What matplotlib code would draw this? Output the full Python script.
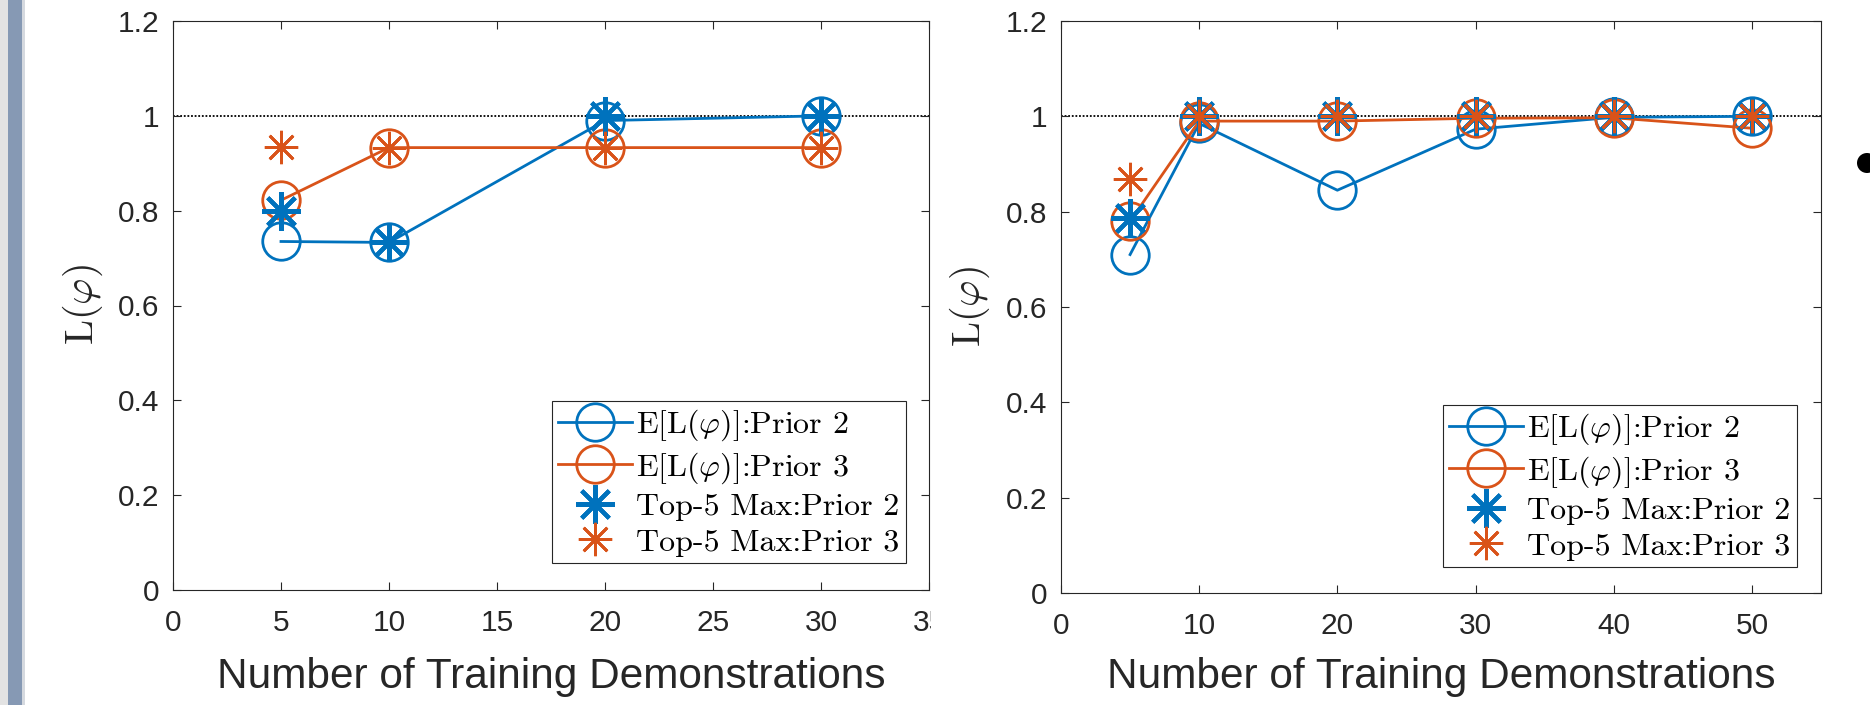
import matplotlib
matplotlib.use('Agg')
import matplotlib.pyplot as plt
from matplotlib.ticker import FuncFormatter, MultipleLocator
from matplotlib.patches import Rectangle, Ellipse
from matplotlib.lines import Line2D

plt.rcParams['mathtext.fontset'] = 'cm'
plt.rcParams['font.family'] = ['Liberation Sans', 'DejaVu Sans']

# ---------------- data ----------------
x_left = [5, 10, 20, 30]
left_e_prior2 = [0.735, 0.733, 0.990, 1.000]
left_e_prior3 = [0.822, 0.933, 0.933, 0.933]
left_top5_prior2 = [0.800, 0.733, 1.000, 1.000]
left_top5_prior3 = [0.935, 0.933, 0.933, 0.933]

x_right = [5, 10, 20, 30, 40, 50]
right_e_prior2 = [0.710, 0.985, 0.845, 0.973, 0.998, 1.000]
right_e_prior3 = [0.780, 0.990, 0.990, 0.996, 0.997, 0.975]
right_top5_prior2 = [0.786, 1.000, 1.000, 1.000, 1.000, 1.000]
right_top5_prior3 = [0.868, 1.000, 1.000, 1.000, 1.000, 1.000]

labels = [r'E[L($\varphi$)]:Prior 2', r'E[L($\varphi$)]:Prior 3',
          'Top-5 Max:Prior 2', 'Top-5 Max:Prior 3']
xlabel = 'Number of Training Demonstrations'
ylabel = r'$\mathrm{L}(\varphi)$'
yticks = [0, 0.2, 0.4, 0.6, 0.8, 1.0, 1.2]

BLUE = '#0072BD'
ORANGE = '#D95319'
AX_COL = '#262626'
ASTER = (8, 2, 0)

CIRC = dict(marker='o', mfc='none', ms=27, mew=2.0, lw=2.0)
STAR2 = dict(ls='none', marker=ASTER, ms=28, mew=3.0)
STAR3 = dict(ls='none', marker=ASTER, ms=24, mew=2.0)

W, H = 1870, 705
fig = plt.figure(figsize=(W / 100, H / 100), dpi=100)


def px_axes(l, t, r, b):
    return fig.add_axes([l / W, 1 - b / H, (r - l) / W, (b - t) / H])


def style_axes(ax, xlim, xstep):
    ax.set_xlim(*xlim)
    ax.set_ylim(0, 1.2)
    ax.xaxis.set_major_locator(MultipleLocator(xstep))
    ax.set_yticks(yticks)
    fmt = FuncFormatter(lambda v, p: f'{v:g}')
    ax.xaxis.set_major_formatter(fmt)
    ax.yaxis.set_major_formatter(fmt)
    for s in ax.spines.values():
        s.set_color(AX_COL)
        s.set_linewidth(0.8)
    ax.tick_params(direction='in', length=6, width=0.8, top=True, right=True,
                   colors=AX_COL, labelsize=21.5, labelcolor=AX_COL)
    ax.tick_params(axis='x', pad=14)
    ax.tick_params(axis='y', pad=10)


def draw(ax, x, e2, e3, t2, t3):
    ax.axhline(1.0, color='k', ls=(0, (1.0, 1.0)), lw=1.3, zorder=1)
    ax.plot(x, e2, '-', color=BLUE, zorder=3, **CIRC)
    ax.plot(x, e3, '-', color=ORANGE, zorder=3, **CIRC)
    ax.plot(x, t2, color=BLUE, zorder=4, **STAR2)
    ax.plot(x, t3, color=ORANGE, zorder=4, **STAR3)


def legend(ax, anchor):
    handles = [
        Line2D([], [], color=BLUE, **CIRC),
        Line2D([], [], color=ORANGE, **CIRC),
        Line2D([], [], color=BLUE, **STAR2),
        Line2D([], [], color=ORANGE, **STAR3),
    ]
    leg = ax.legend(handles, labels, loc='lower right', bbox_to_anchor=anchor,
                    borderaxespad=0, prop={'family': 'cmr10', 'size': 23},
                    handlelength=2.3, handletextpad=0.15, labelspacing=0.22,
                    borderpad=0.2, fancybox=False, framealpha=1,
                    edgecolor=AX_COL)
    leg.get_frame().set_linewidth(0.8)
    for t in leg.get_texts():
        t.set_color('black')


# left panel
axL = px_axes(173, 21, 929, 590)
style_axes(axL, (0, 35), 5)
draw(axL, x_left, left_e_prior2, left_e_prior3, left_top5_prior2, left_top5_prior3)
legend(axL, ((906 - 173) / 756, (590 - 563) / 569))

# right panel
axR = px_axes(1061, 21, 1821, 593)
style_axes(axR, (0, 55), 10)
draw(axR, x_right, right_e_prior2, right_e_prior3, right_top5_prior2, right_top5_prior3)
legend(axR, ((1797 - 1061) / 760, (593 - 567) / 572))

# axis labels
for cx in (551, 1441):
    fig.text(cx / W, 1 - 688 / H, xlabel, ha='center', va='baseline',
             fontsize=30.5, color=AX_COL)
for cx, cy in ((83, 305), (970, 307)):
    fig.text(cx / W, 1 - cy / H, ylabel, ha='center', va='center',
             rotation=90, fontsize=29, color=AX_COL)

# page decorations: left stripe, cropped tick label cover, bullet
fig.add_artist(Rectangle((0, 0), 8 / W, 1, transform=fig.transFigure,
                         color='#e3e3e3', zorder=20, lw=0))
fig.add_artist(Rectangle((8 / W, 0), 14 / W, 1, transform=fig.transFigure,
                         color='#8699b4', zorder=20, lw=0))
fig.add_artist(Rectangle((22 / W, 0), 3 / W, 1, transform=fig.transFigure,
                         color='#d5d9df', zorder=20, lw=0))
fig.add_artist(Rectangle((931 / W, 1 - 650 / H), 60 / W, 50 / H,
                         transform=fig.transFigure, color='white', zorder=20, lw=0))
fig.add_artist(Ellipse((1867 / W, 1 - 163 / H), 20 / W, 20 / H,
                       transform=fig.transFigure, color='black', zorder=20, lw=0))

fig.savefig('out.png', dpi=100)
